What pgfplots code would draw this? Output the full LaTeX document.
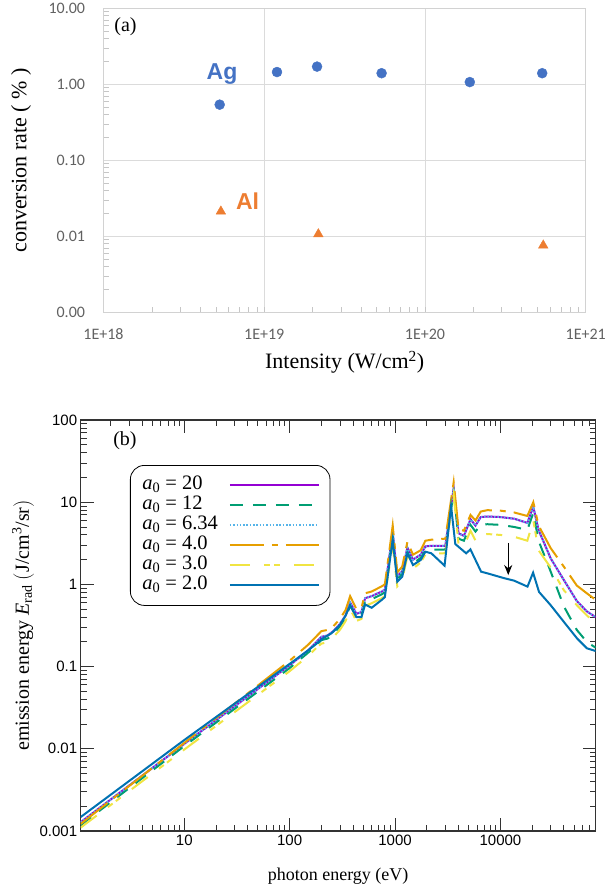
\documentclass[border=0pt]{standalone}
\usepackage{fontspec}
\setmainfont{Liberation Serif}
\newfontfamily\helv{Liberation Sans}
\newfontfamily\calib{Carlito}
\usepackage{pgfplots}
\pgfplotsset{compat=1.18}
\usetikzlibrary{arrows.meta}

\definecolor{exblue}{HTML}{4472C4}
\definecolor{exorange}{HTML}{ED7D31}
\definecolor{gpurple}{HTML}{9400D3}
\definecolor{ggreen}{HTML}{009E73}
\definecolor{gsky}{HTML}{56B4E9}
\definecolor{gorange}{HTML}{E69F00}
\definecolor{gyellow}{HTML}{F0E442}
\definecolor{gblue}{HTML}{0072B2}

\begin{document}
\begin{tikzpicture}[x=1pt,y=1pt]
\path[use as bounding box] (0,0) rectangle (605,-888);

% ---------------- panel (a)
\begin{axis}[
  at={(103.5pt,-312.3pt)}, anchor=south west,
  scale only axis, width=482.2pt, height=304pt,
  xmode=log, ymode=log,
  xmin=1e18, xmax=1e21, ymin=1e-3, ymax=10,
  xtick={1e18,1e19,1e20,1e21}, xticklabels={1E+18,1E+19,1E+20,1E+21},
  ytick={0.001,0.01,0.1,1,10}, yticklabels={0.00,0.01,0.10,1.00,10.00},
  minor xtick={},
  minor ytick={0.002,0.003,0.004,0.005,0.006,0.007,0.008,0.009,
               0.02,0.03,0.04,0.05,0.06,0.07,0.08,0.09,
               0.2,0.3,0.4,0.5,0.6,0.7,0.8,0.9,2,3,4,5,6,7,8,9},
  grid=major, major grid style={gray!28, line width=0.8pt},
  axis line style={gray!35, line width=0.8pt},
  major tick length=0pt, minor tick length=5pt, tick align=inside,
  minor tick style={gray!45, line width=0.6pt},
  ytick pos=left, xtick pos=bottom,
  tick label style={font=\calib\fontsize{16}{19}\selectfont, text=black!62},
  yticklabel style={xshift=-15pt},
  xticklabel style={yshift=-13pt},
  xlabel={Intensity (W/cm\textsuperscript{2})},
  ylabel={conversion rate ( \% )},
  label style={font=\fontsize{22}{26}\selectfont},
  xlabel style={at={(axis description cs:0.5,-0.1645)}, anchor=center},
  ylabel style={at={(axis description cs:-0.171,0.5)}, anchor=center},
]
\addplot[only marks, mark=*, mark size=5pt, color=exblue] coordinates {
  (5.28e18,0.54) (1.2e19,1.45) (2.13e19,1.71) (5.37e19,1.40) (1.9e20,1.07) (5.36e20,1.40)};
\addplot[only marks, mark=triangle*, mark size=5.5pt, color=exorange] coordinates {
  (5.37e18,0.0213) (2.17e19,0.0107) (5.44e20,0.0076)};
\node[font=\fontsize{20}{24}\selectfont] at (axis description cs:0.0456,0.94) {(a)};
\node[font=\helv\bfseries\fontsize{23}{26}\selectfont, text=exblue] at (axis cs:5.46e18,1.36) {Ag};
\node[font=\helv\bfseries\fontsize{23}{26}\selectfont, text=exorange] at (axis cs:7.87e18,0.0291) {Al};
\end{axis}

% ---------------- panel (b)
\begin{axis}[
  at={(80.7pt,-831pt)}, anchor=south west,
  scale only axis, width=514.9pt, height=411pt,
  xmode=log, ymode=log,
  xmin=1.04, xmax=80000, ymin=0.001, ymax=100,
  xtick={10,100,1000,10000}, xticklabels={10,100,1000,10000},
  ytick={0.001,0.01,0.1,1,10,100}, yticklabels={0.001,0.01,0.1,1,10,100},
  minor xtick={2,3,4,5,6,7,8,9,20,30,40,50,60,70,80,90,
               200,300,400,500,600,700,800,900,2000,3000,4000,5000,6000,7000,8000,9000,
               20000,30000,40000,50000,60000,70000},
  minor ytick={0.002,0.003,0.004,0.005,0.006,0.007,0.008,0.009,
               0.02,0.03,0.04,0.05,0.06,0.07,0.08,0.09,
               0.2,0.3,0.4,0.5,0.6,0.7,0.8,0.9,2,3,4,5,6,7,8,9,
               20,30,40,50,60,70,80,90},
  tick align=inside, major tick length=13pt, minor tick length=6pt,
  axis line style={line width=1.1pt, black!80},
  tick style={line width=0.9pt, black!80},
  tick label style={font=\helv\fontsize{15}{18}\selectfont},
  xlabel={photon energy (eV)},
  ylabel={emission energy \textit{E}\textsubscript{rad} $\big($J/cm\textsuperscript{3}/sr$\big)$},
  xlabel style={font=\fontsize{18}{21}\selectfont, at={(axis description cs:0.5,-0.1095)}, anchor=center},
  ylabel style={font=\fontsize{20}{23}\selectfont, at={(axis description cs:-0.112,0.5)}, anchor=center},
  every axis plot/.append style={line width=2pt},
  legend style={at={(0.0957,0.8905)}, anchor=north west, draw=black,
                line width=0.8pt, rounded corners=14pt,
                font=\fontsize{20.5}{22}\selectfont,
                nodes={inner ysep=1pt, text height=13pt, text depth=5pt},
                inner xsep=10pt, inner ysep=10pt, row sep=0pt, column sep=9pt},
  legend cell align=left, legend plot pos=right,
  legend image code/.code={\draw[#1, line width=2pt] (0pt,0pt) -- (89pt,0pt);},
]
\addplot[gpurple] coordinates {
 (1.04,0.00128)(10,0.0115)(100,0.104)(150,0.158)(180,0.2)(200,0.23)(230,0.24)(260,0.27)
 (300,0.33)(340,0.42)(375,0.60)(430,0.44)(480,0.46)(520,0.68)(600,0.72)(750,0.82)(800,0.86)
 (950,4.3)(1050,1.25)(1170,1.45)(1310,2.8)(1480,2.0)(1750,2.3)(1940,2.9)(2210,2.95)(3000,2.95)
 (3600,14.8)(4000,4.2)(4500,3.9)(5200,6.2)(5800,5.2)(6500,6.6)(7500,6.7)(10000,6.6)(13500,6.3)
 (18000,5.6)(20500,8.8)(23000,4.6)(30000,2.07)(40000,1.13)(53000,0.63)(66000,0.47)(80000,0.40)};
\addlegendentry{\textit{a}\textsubscript{0} = 20}
\addplot[ggreen, dash pattern=on 13pt off 10pt] coordinates {
 (1.04,0.00118)(10,0.0108)(100,0.096)(150,0.148)(180,0.185)(200,0.21)(230,0.22)(260,0.25)
 (300,0.31)(340,0.39)(375,0.55)(430,0.41)(480,0.43)(520,0.62)(600,0.66)(750,0.76)(800,0.80)
 (950,3.9)(1050,1.15)(1170,1.35)(1310,2.5)(1480,1.8)(1750,2.1)(1940,2.6)(2210,2.65)(3000,2.65)
 (3600,13.4)(4000,3.6)(4500,3.4)(5200,5.3)(5800,4.4)(6500,5.3)(7500,5.4)(10000,5.3)(13500,5.0)
 (18000,4.6)(20500,7.4)(23000,3.4)(30000,1.43)(40000,0.54)(53000,0.28)(66000,0.20)(80000,0.17)};
\addlegendentry{\textit{a}\textsubscript{0} = 12}
\addplot[gsky, dash pattern=on 1.5pt off 1.8pt] coordinates {
 (1.04,0.00128)(10,0.0115)(100,0.104)(150,0.158)(180,0.2)(200,0.23)(230,0.24)(260,0.27)
 (300,0.33)(340,0.42)(375,0.60)(430,0.44)(480,0.46)(520,0.68)(600,0.72)(750,0.82)(800,0.86)
 (950,4.3)(1050,1.25)(1170,1.45)(1310,2.8)(1480,2.0)(1750,2.3)(1940,2.9)(2210,2.95)(3000,2.95)
 (3600,14.8)(4000,4.2)(4500,3.9)(5200,6.2)(5800,5.2)(6500,6.6)(7500,6.7)(10000,6.6)(13500,6.3)
 (18000,5.6)(20500,8.8)(23000,4.6)(30000,2.07)(40000,1.13)(53000,0.63)(66000,0.47)(80000,0.40)};
\addlegendentry{\textit{a}\textsubscript{0} = 6.34}
\addplot[gorange, dash pattern=on 34pt off 8pt on 6pt off 8pt] coordinates {
 (1.04,0.00122)(10,0.0118)(100,0.118)(150,0.185)(180,0.235)(200,0.27)(230,0.28)(260,0.31)
 (300,0.38)(340,0.49)(375,0.72)(430,0.50)(480,0.52)(520,0.78)(600,0.82)(750,0.95)(800,1.0)
 (950,5.2)(1050,1.4)(1170,1.65)(1310,3.3)(1480,2.3)(1750,2.6)(1940,3.4)(2210,3.5)(3000,3.6)
 (3600,17.5)(4000,4.7)(4500,4.5)(5200,7.0)(5800,6.0)(6500,7.7)(7500,8.0)(10000,7.9)(13500,7.5)
 (18000,6.8)(20500,10)(23000,5.2)(30000,2.76)(40000,1.64)(53000,0.97)(66000,0.78)(80000,0.65)};
\addlegendentry{\textit{a}\textsubscript{0} = 4.0}
\addplot[gyellow, dash pattern=on 20pt off 14pt on 6pt off 4pt on 6pt off 14pt] coordinates {
 (1.04,0.00110)(10,0.0098)(100,0.088)(150,0.135)(180,0.17)(200,0.19)(230,0.2)(260,0.23)
 (300,0.28)(340,0.36)(375,0.50)(430,0.36)(480,0.38)(520,0.55)(600,0.59)(750,0.68)(800,0.72)
 (950,3.0)(1050,0.95)(1170,1.15)(1310,2.2)(1480,1.55)(1750,1.85)(1940,2.3)(2210,2.35)(3000,2.4)
 (3600,12.3)(4000,3.1)(4500,2.9)(5200,4.5)(5800,3.4)(6500,4.0)(7500,4.1)(10000,4.0)(13500,3.8)
 (18000,3.4)(20500,6.0)(23000,2.6)(30000,1.6)(40000,0.85)(53000,0.56)(66000,0.42)(80000,0.34)};
\addlegendentry{\textit{a}\textsubscript{0} = 3.0}
\addplot[gblue] coordinates {
 (1.04,0.00148)(10,0.0128)(100,0.108)(150,0.158)(180,0.19)(200,0.215)(250,0.255)(300,0.32)
 (340,0.42)(375,0.56)(430,0.40)(480,0.40)(520,0.57)(600,0.52)(750,0.65)(800,0.70)(950,3.5)
 (1050,1.08)(1170,1.24)(1310,2.39)(1480,1.72)(1750,1.98)(1940,2.5)(2210,2.39)(2950,1.69)
 (3400,9.0)(3730,3.1)(4730,2.39)(5190,2.67)(6550,1.43)(7570,1.36)(10870,1.19)(13500,1.11)
 (18060,0.94)(20420,1.39)(23240,0.81)(29930,0.56)(40000,0.35)(53400,0.22)(66200,0.167)(80000,0.155)};
\addlegendentry{\textit{a}\textsubscript{0} = 2.0}
\node[font=\fontsize{20}{24}\selectfont] at (axis description cs:0.086,0.95) {(b)};
\draw[-{Stealth[length=10pt,width=8pt]}, line width=1.4pt] (axis cs:11860,3.2) -- (axis cs:11860,1.3);
\end{axis}
\end{tikzpicture}
\end{document}
